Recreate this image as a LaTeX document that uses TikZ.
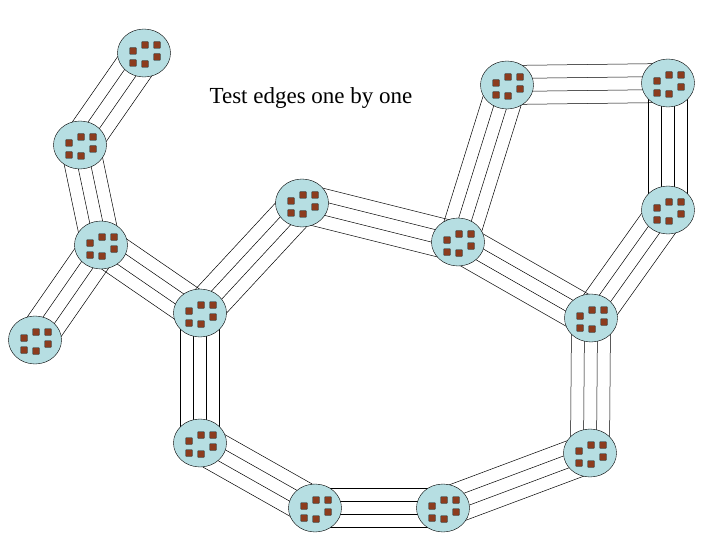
\documentclass[tikz,border=0pt]{standalone}
\usepackage{fontspec}
\setmainfont{Liberation Serif}
\usetikzlibrary{calc,shapes.geometric}
\definecolor{cellc}{RGB}{182,222,226}
\definecolor{dotc}{RGB}{140,60,30}
\tikzset{
  cell/.style={ellipse,draw=black,fill=cellc,minimum width=53pt,minimum height=48pt,inner sep=0pt},
  dot/.style={fill=dotc,draw=black,line width=0.4pt,minimum size=6.5pt,inner sep=0pt,rounded corners=0.5pt},
  wire/.style={draw=black,line width=0.5pt}
}
\newcommand{\bundle}[2]{%
  \foreach \o in {-19.5,-6.5,6.5,19.5}{%
    \draw[wire] ($(#1)!\o pt!90:(#2)$) -- ($(#2)!\o pt!-90:(#1)$);}}
\newcommand{\cellat}[2]{%
  \node[cell] (#1) at (#2) {};
  \foreach \dx/\dy in {-11/-2,1/-8,13/-8,-11/10,1/11,13/4}{%
    \node[dot] at ($(#1)+(\dx,\dy)$) {};}}
\begin{document}
\begin{tikzpicture}[x=1pt,y=-1pt]
\useasboundingbox (0,0) rectangle (720,540);
\foreach \n/\x/\y in {A/144/53,B/80/145,C/101/245,D/35/340,E/302/203,F/200/313,G/200/443,H/315/508,I/443/508,J/590/453,K/591/318,L/458/242,M/507/85,N/668/83,O/668/210}{
  \coordinate (\n) at (\x,\y);}
\bundle{A}{B}\bundle{B}{C}\bundle{C}{D}\bundle{C}{F}\bundle{F}{E}\bundle{E}{L}
\bundle{L}{M}\bundle{M}{N}\bundle{N}{O}\bundle{O}{K}\bundle{K}{L}\bundle{F}{G}
\bundle{G}{H}\bundle{H}{I}\bundle{I}{J}\bundle{J}{K}
\foreach \n/\x/\y in {A/144/53,B/80/145,C/101/245,D/35/340,E/302/203,F/200/313,G/200/443,H/315/508,I/443/508,J/590/453,K/591/318,L/458/242,M/507/85,N/668/83,O/668/210}{
  \cellat{c\n}{\x,\y}}
\node[font=\fontsize{23}{25}\selectfont] (title) at (311,98) {Test edges one by one};
\end{tikzpicture}
\end{document}
